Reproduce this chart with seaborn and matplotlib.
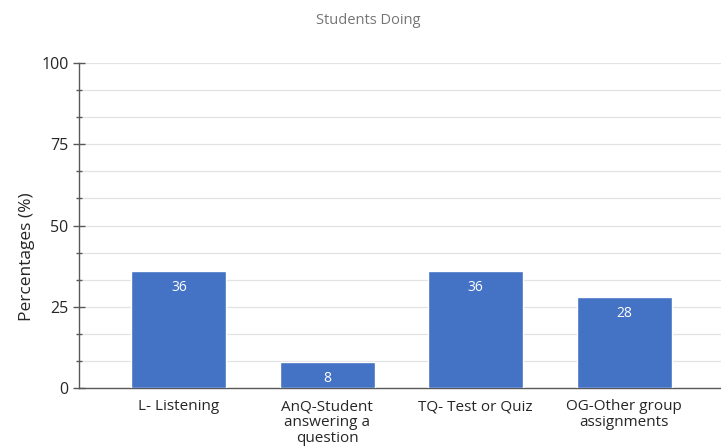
import matplotlib
matplotlib.use('Agg')
import matplotlib.pyplot as plt
import seaborn as sns
import pandas as pd
import numpy as np
from matplotlib.ticker import MultipleLocator

# ── Data ──────────────────────────────────────────────────────────────────────
categories = ['L- Listening', 'AnQ-Student\nanswering a\nquestion',
              'TQ- Test or Quiz', 'OG-Other group\nassignments']
percentages = [36, 8, 36, 28]

df = pd.DataFrame({'Activity': categories, 'Pct': percentages})

# ── Style ─────────────────────────────────────────────────────────────────────
sns.set_style('white')
plt.rcParams['font.family'] = ['Open Sans', 'DejaVu Sans']

fig = plt.figure(figsize=(7.21, 4.46), dpi=100)
ax = fig.add_axes([79 / 721, 58 / 446, 642 / 721, 325 / 446])

sns.barplot(data=df, x='Activity', y='Pct', color='#4472C4', width=0.64,
            saturation=1, ax=ax, zorder=3)

# value labels inside bars
for bar, v in zip(ax.patches, percentages):
    ax.text(bar.get_x() + bar.get_width() / 2, v - 5.0, f'{v}',
            ha='center', va='center', color='white', fontsize=10, zorder=4)

ax.set_xlim(-0.673, 3.653)
ax.set_ylim(0, 100)
ax.yaxis.set_major_locator(MultipleLocator(25))
ax.yaxis.set_minor_locator(MultipleLocator(100 / 12))
ax.grid(True, which='both', axis='y', color='#e3e3e3', linewidth=0.9, zorder=0)
ax.set_axisbelow(True)

for s in ['top', 'right']:
    ax.spines[s].set_visible(False)
ax.spines['left'].set_color('#595959')
ax.spines['bottom'].set_color('#595959')
ax.spines['left'].set_linewidth(1.0)
ax.spines['bottom'].set_linewidth(1.0)

ax.tick_params(axis='y', which='both', left=True)
ax.tick_params(axis='y', which='major', direction='inout', length=9, width=1,
               color='#595959', labelsize=11.5, labelcolor='#262626', pad=3)
ax.tick_params(axis='y', which='minor', direction='inout', length=5, width=1,
               color='#595959')
ax.tick_params(axis='x', length=0, labelsize=11, labelcolor='#262626', pad=8)
for lbl in ax.get_xticklabels():
    lbl.set_linespacing(1.1)

ax.set_xlabel('')
ax.set_ylabel('Percentages (%)', fontsize=12.5, color='#262626')
ax.yaxis.set_label_coords(-0.069, 0.403)

fig.text(368 / 721, 1 - 20 / 446, 'Students Doing', ha='center', va='center',
         fontsize=10.5, color='#757575')

plt.savefig('out.png', dpi=100)
plt.close()
